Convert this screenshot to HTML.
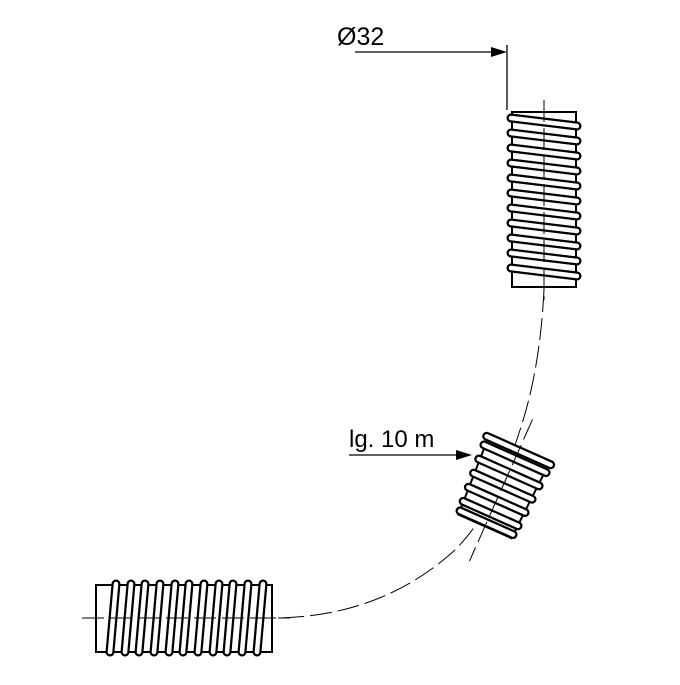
<!DOCTYPE html>
<html><head><meta charset="utf-8"><style>html,body{margin:0;padding:0;background:#fff}</style></head>
<body>
<svg width="680" height="680" viewBox="0 0 680 680" xmlns="http://www.w3.org/2000/svg" font-family="Liberation Sans, sans-serif">
<defs>
<g id="capH"><line x1="-33" y1="-4" x2="33" y2="4" stroke="#000" stroke-width="9" stroke-linecap="round"/><line x1="-33" y1="-4" x2="33" y2="4" stroke="#fff" stroke-width="4.5" stroke-linecap="round"/></g>
<g id="capV"><line x1="3" y1="-34" x2="-3" y2="34" stroke="#000" stroke-width="9" stroke-linecap="round"/><line x1="3" y1="-34" x2="-3" y2="34" stroke="#fff" stroke-width="4.5" stroke-linecap="round"/></g>
</defs>
<!-- dashed center path -->
<path d="M544,290 Q540,370 520,430 Q495,510 455,550 Q380,618 272,618" fill="none" stroke="#000" stroke-width="1" stroke-dasharray="22,6"/>
<!-- top tube -->
<rect x="512" y="112" width="64" height="175" fill="#fff" stroke="#000" stroke-width="2"/>
<g>
<use href="#capH" x="544" y="122"/><use href="#capH" x="544" y="137"/><use href="#capH" x="544" y="152"/><use href="#capH" x="544" y="167"/><use href="#capH" x="544" y="182"/><use href="#capH" x="544" y="197"/><use href="#capH" x="544" y="212"/><use href="#capH" x="544" y="227"/><use href="#capH" x="544" y="242"/><use href="#capH" x="544" y="257"/><use href="#capH" x="544" y="272"/>
</g>
<line x1="544" y1="100" x2="544" y2="300" stroke="#000" stroke-width="1" stroke-dasharray="22,6"/>
<!-- bottom tube -->
<rect x="96" y="585" width="176" height="67" fill="#fff" stroke="#000" stroke-width="2"/>
<g>
<use href="#capV" x="113" y="618"/><use href="#capV" x="128" y="618"/><use href="#capV" x="142" y="618"/><use href="#capV" x="157" y="618"/><use href="#capV" x="172" y="618"/><use href="#capV" x="186" y="618"/><use href="#capV" x="201" y="618"/><use href="#capV" x="216" y="618"/><use href="#capV" x="230" y="618"/><use href="#capV" x="245" y="618"/><use href="#capV" x="260" y="618"/>
</g>
<line x1="82" y1="618" x2="290" y2="618" stroke="#000" stroke-width="1" stroke-dasharray="22,6"/>
<!-- middle tube -->
<g transform="translate(502,488) rotate(24)">
<polygon points="-33,-40 33,-40 29,42 -29,42" fill="#fff" stroke="#000" stroke-width="2"/>
<g stroke-linecap="round">
<line x1="-35" y1="-41" x2="35" y2="-41" stroke="#000" stroke-width="9"/><line x1="-35" y1="-41" x2="35" y2="-41" stroke="#fff" stroke-width="4.5"/>
<line x1="-34" y1="-32" x2="34" y2="-32" stroke="#000" stroke-width="9"/><line x1="-34" y1="-32" x2="34" y2="-32" stroke="#fff" stroke-width="4.5"/>
<line x1="-33" y1="-17" x2="33" y2="-17" stroke="#000" stroke-width="9"/><line x1="-33" y1="-17" x2="33" y2="-17" stroke="#fff" stroke-width="4.5"/>
<line x1="-32" y1="-2" x2="32" y2="-2" stroke="#000" stroke-width="9"/><line x1="-32" y1="-2" x2="32" y2="-2" stroke="#fff" stroke-width="4.5"/>
<line x1="-31" y1="13" x2="31" y2="13" stroke="#000" stroke-width="9"/><line x1="-31" y1="13" x2="31" y2="13" stroke="#fff" stroke-width="4.5"/>
<line x1="-30" y1="28" x2="30" y2="28" stroke="#000" stroke-width="9"/><line x1="-30" y1="28" x2="30" y2="28" stroke="#fff" stroke-width="4.5"/>
<line x1="-29" y1="38" x2="29" y2="38" stroke="#000" stroke-width="9"/><line x1="-29" y1="38" x2="29" y2="38" stroke="#fff" stroke-width="4.5"/>
</g>
<line x1="0" y1="-75" x2="0" y2="80" stroke="#000" stroke-width="1" stroke-dasharray="22,6"/>
</g>
<!-- dimensions -->
<text x="337" y="45" font-size="25">Ø32</text>
<line x1="355" y1="52" x2="495" y2="52" stroke="#000" stroke-width="1.3"/>
<polygon points="507,52 491,47 491,57" fill="#000"/>
<line x1="507" y1="45" x2="507" y2="110" stroke="#000" stroke-width="1.3"/>
<text x="349" y="447" font-size="24">lg. 10 m</text>
<line x1="349" y1="455" x2="460" y2="455" stroke="#000" stroke-width="1.3"/>
<polygon points="472,455 456,450 456,460" fill="#000"/>
</svg>
</body></html>
